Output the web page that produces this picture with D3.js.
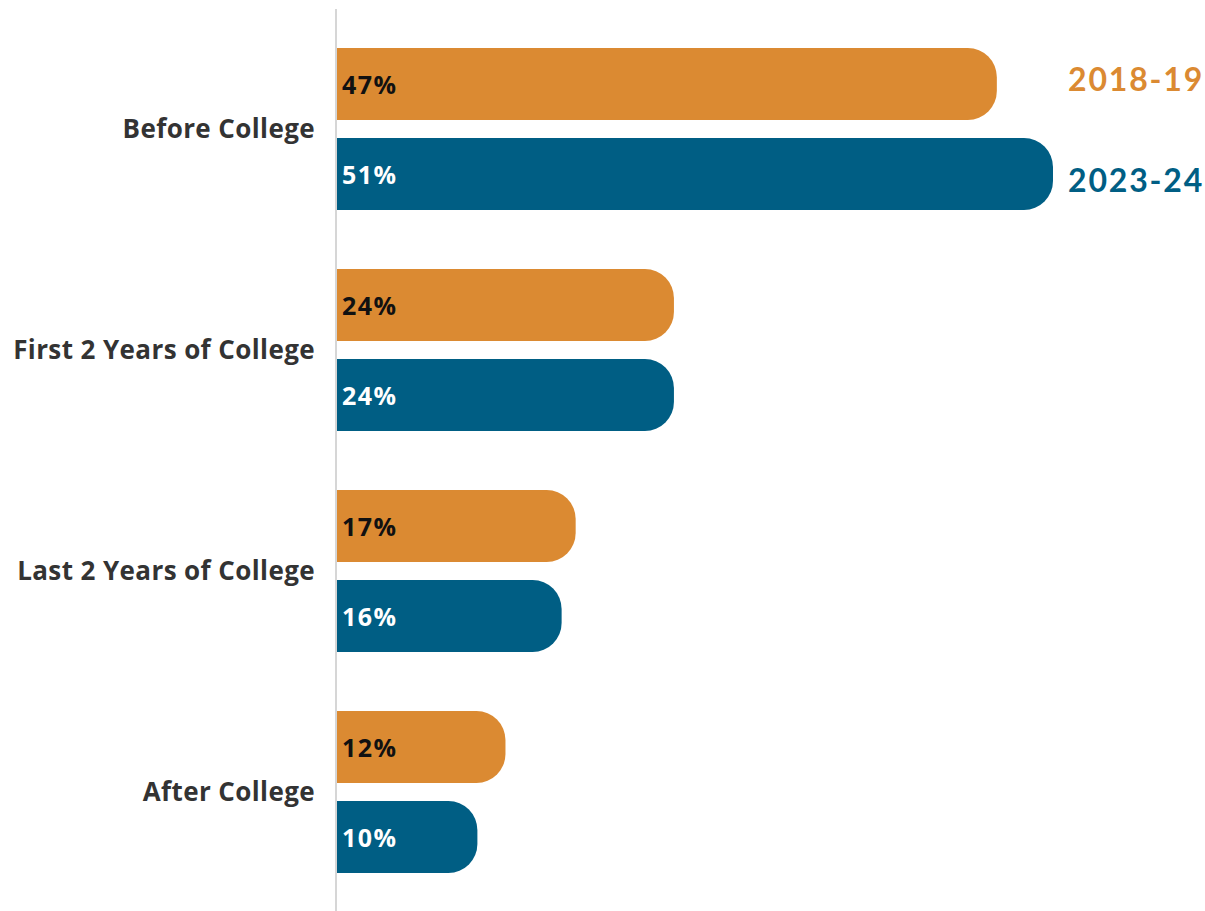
<!DOCTYPE html>
<html>
<head>
<meta charset="utf-8">
<script src="https://cdn.jsdelivr.net/npm/d3@7"></script>
<style>
  html, body { margin: 0; padding: 0; background: #fff; }
  svg text { font-family: "Open Sans", Lato, sans-serif; font-weight: 700; }
</style>
</head>
<body>
<svg id="chart" width="1205" height="911"></svg>
<script>
// Share of respondents by timing, two survey years
const categories = ["Before College", "First 2 Years of College", "Last 2 Years of College", "After College"];
const seriesNames = ["2018-19", "2023-24"];
const values2018 = [47, 24, 17, 12];
const values2023 = [51, 24, 16, 10];
const seriesColors = ["#DB8A32", "#005E84"];
const valueTextColors = ["#111111", "#ffffff"];

const svg = d3.select("#chart");

const x = d3.scaleLinear().domain([0, 51]).range([337, 1053]);
const y = d3.scaleBand().domain(categories).range([48, 873]).paddingInner(0.267).paddingOuter(0);
const ySub = d3.scaleBand().domain(seriesNames).range([0, y.bandwidth()]).paddingInner(0.2);

const rows = [];
categories.forEach((c, i) => {
  rows.push({ cat: c, series: seriesNames[0], si: 0, v: values2018[i] });
  rows.push({ cat: c, series: seriesNames[1], si: 1, v: values2023[i] });
});

// bar with square left edge and rounded right end
function barPath(x0, x1, y0, h, r) {
  r = Math.min(r, (x1 - x0), h / 2);
  return `M${x0},${y0}H${x1 - r}A${r},${r} 0 0 1 ${x1},${y0 + r}V${y0 + h - r}A${r},${r} 0 0 1 ${x1 - r},${y0 + h}H${x0}Z`;
}

svg.append("g").selectAll("path")
  .data(rows)
  .join("path")
  .attr("d", d => barPath(x(0), x(d.v), y(d.cat) + ySub(d.series), ySub.bandwidth(), 29))
  .attr("fill", d => seriesColors[d.si]);

// vertical baseline
svg.append("line")
  .attr("x1", 336).attr("x2", 336)
  .attr("y1", 9).attr("y2", 911)
  .attr("stroke", "#d6d6d6").attr("stroke-width", 2);

// value labels inside bars
svg.append("g").selectAll("text")
  .data(rows)
  .join("text")
  .attr("x", x(0) + 5)
  .attr("y", d => y(d.cat) + ySub(d.series) + ySub.bandwidth() / 2 + 1)
  .attr("dy", "0.35em")
  .attr("font-size", 25)
  .attr("letter-spacing", 1.5)
  .attr("fill", d => valueTextColors[d.si])
  .text(d => d.v + "%");

// category labels
const yAxis = d3.axisLeft(y).tickSize(0).tickPadding(0);
const axisG = svg.append("g").attr("transform", "translate(315,0)").call(yAxis);
axisG.select(".domain").remove();
axisG.selectAll("text")
  .attr("font-size", 26)
  .attr("letter-spacing", 0.4)
  .attr("fill", "#333333")
  .style("font-family", "'Open Sans', Lato, sans-serif")
  .style("font-weight", 700)
  .attr("dy", "0.35em");

// series labels at right end of first group
const firstCat = categories[0];
svg.append("g").selectAll("text")
  .data(seriesNames)
  .join("text")
  .attr("x", 1204)
  .attr("y", (d, i) => y(firstCat) + ySub(d) + ySub.bandwidth() / 2 + (i === 0 ? -4 : 7))
  .attr("dy", "0.35em")
  .attr("text-anchor", "end")
  .attr("font-size", 32)
  .attr("letter-spacing", 1.8)
  .style("font-family", "Lato, sans-serif")
  .attr("fill", (d, i) => seriesColors[i])
  .text(d => d);
</script>
</body>
</html>
